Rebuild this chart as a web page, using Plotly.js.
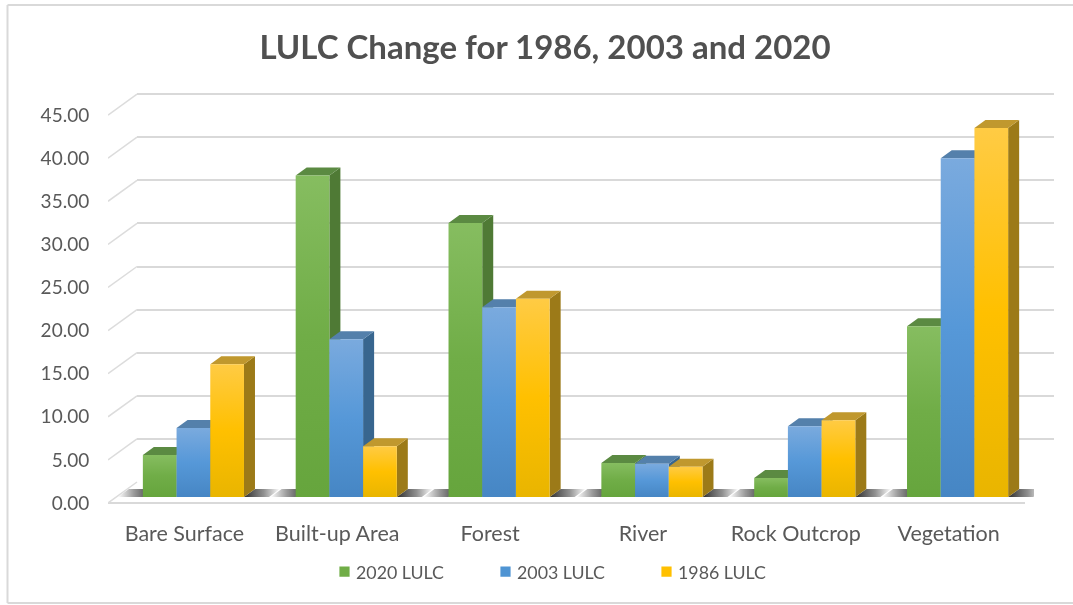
<!DOCTYPE html>
<html><head><meta charset="utf-8">
<script src="https://cdn.plot.ly/plotly-3.0.1.min.js"></script>
<style>html,body{margin:0;padding:0;background:#fff}#chart{width:1073px;height:605px;filter:blur(0.45px)}</style>
</head><body><div id="chart"></div>
<script>
// ---------- data ----------
const categories = ["Bare Surface","Built-up Area","Forest","River","Rock Outcrop","Vegetation"];
const lulc2020 = [4.87,37.3,31.8,3.95,2.2,19.8];
const lulc2003 = [8.0,18.3,22.0,3.85,8.2,39.3];
const lulc1986 = [15.4,5.9,23.0,3.5,8.9,42.8];
const seriesNames = ["2020 LULC","2003 LULC","1986 LULC"];
const yTicks = [0,5,10,15,20,25,30,35,40,45];
const yTickText = ["0.00","5.00","10.00","15.00","20.00","25.00","30.00","35.00","40.00","45.00"];
// ---------- styling ----------
const frontColors = ["#70ad47","#4f94d3","#ffc000"];
const sideColors = ["#4f7a35","#38668f","#9c7a18"];
const topColors = ["#5b8a42","#5480ab","#c0982e"];
const gradients = [["#86bd60","#70ad47","#66a53d"],["#7aaade","#5698d8","#4686c4"],["#ffcb44","#ffc000","#e9b500"]];
const W=1073,H=605,PXX=152.8,PXY=8.62;
const textGrey="#595959";
const font="Lato, 'Open Sans', sans-serif";
function planeX(left,right){return {domain:[left/W,right/W],range:[-0.5,5.5],showgrid:false,zeroline:false,showticklabels:false,ticks:"",showline:false,fixedrange:true};}
function planeY(base,anchor){const top=70,bottom=base;return {domain:[1-bottom/H,1-top/H],range:[0,(base-top)/PXY],showgrid:false,zeroline:false,showticklabels:false,ticks:"",showline:false,fixedrange:true,anchor};}
const series=[lulc2020,lulc2003,lulc1986];
const barW=33.7/PXX, dx=11/PXX, dy=8/PXY;
const traces=[];
// back wall (subplot xy) – anchor trace so the axes exist
traces.push({x:[0],y:[0],xaxis:"x",yaxis:"y",type:"scatter",mode:"none",showlegend:false,hoverinfo:"skip"});
// floor shadows (subplot x2y2)
categories.forEach((c,i)=>{
  const L=i-1.5*barW,R=i+1.5*barW,s=25/PXX;
  traces.push({x:[L-s,L,L+dx,L-s+dx,L-s],y:[0,0,dy,dy,0],xaxis:"x2",yaxis:"y2",type:"scatter",mode:"none",fill:"toself",cliponaxis:false,showlegend:false,hoverinfo:"skip",
    fillgradient:{type:"horizontal",colorscale:[[0,"rgba(70,70,70,0)"],[0.45,"rgba(70,70,70,0.55)"],[1,"rgba(45,45,45,1)"]]}});
  traces.push({x:[R,R+s,R+s+dx,R+dx,R],y:[0,0,dy,dy,0],xaxis:"x2",yaxis:"y2",type:"scatter",mode:"none",fill:"toself",cliponaxis:false,showlegend:false,hoverinfo:"skip",
    fillgradient:{type:"horizontal",colorscale:[[0,"rgba(45,45,45,1)"],[0.55,"rgba(70,70,70,0.6)"],[1,"rgba(70,70,70,0)"]]}});
});
// side and top faces, derived from the values (subplot x2y2)
series.forEach((vals,j)=>{
  const sx=[],sy=[],tx=[],ty=[];
  vals.forEach((v,i)=>{
    const L=i+(j-1.5)*barW,R=L+barW;
    sx.push(R,R,R+dx,R+dx,R,null); sy.push(0,v,v+dy,dy,0,null);
    tx.push(L,R,R+dx,L+dx,L,null); ty.push(v,v,v+dy,v+dy,v,null);
  });
  traces.push({x:sx,y:sy,xaxis:"x2",yaxis:"y2",type:"scatter",mode:"none",fill:"toself",fillcolor:sideColors[j],cliponaxis:false,showlegend:false,hoverinfo:"skip"});
  traces.push({x:tx,y:ty,xaxis:"x2",yaxis:"y2",type:"scatter",mode:"none",fill:"toself",fillcolor:topColors[j],cliponaxis:false,showlegend:false,hoverinfo:"skip"});
});
// front faces (subplot x3y3)
series.forEach((vals,j)=>{
  traces.push({x:categories.map((c,i)=>i),y:vals,name:seriesNames[j],type:"bar",xaxis:"x3",yaxis:"y3",marker:{color:frontColors[j],line:{width:0}},cliponaxis:false});
});
// left wall slants and front labels (subplot x4y4)
{
  const gx=[],gy=[],ddx=29/PXX,ddy=21/PXY;
  yTicks.forEach(v=>{gx.push(-0.5,-0.5+ddx,null);gy.push(v,v+ddy,null);});
  traces.push({x:gx,y:gy,xaxis:"x4",yaxis:"y4",type:"scatter",mode:"lines",line:{color:"#dcdcdc",width:1.5},cliponaxis:false,showlegend:false,hoverinfo:"skip"});
}
const frame="#d9d9d9";
const layout={
  width:W,height:H,margin:{l:0,r:0,t:0,b:0},paper_bgcolor:"#fff",plot_bgcolor:"rgba(0,0,0,0)",
  font:{family:font,color:textGrey},
  title:{text:"LULC Change for 1986, 2003 and 2020",x:545/W,xanchor:"center",y:1-47/H,yanchor:"middle",font:{family:font,size:33,color:"#505050",weight:700}},
  barmode:"group",bargap:1-3*barW,bargroupgap:0,
  showlegend:true,
  legend:{orientation:"h",x:316/W,xanchor:"left",y:1-572/H,yanchor:"middle",font:{size:17.8,color:textGrey,family:font},entrywidth:116,entrywidthmode:"pixels",traceorder:"normal",bgcolor:"rgba(0,0,0,0)"},
  xaxis:planeX(137,1054),
  yaxis:Object.assign(planeY(482,"x"),{showgrid:true,gridcolor:"#d9d9d9",gridwidth:2,tickmode:"array",tickvals:yTicks}),
  xaxis2:Object.assign(planeX(117,1034),{anchor:"y2"}),
  yaxis2:planeY(497,"x2"),
  xaxis3:Object.assign(planeX(117,1034),{anchor:"y3"}),
  yaxis3:planeY(497,"x3"),
  xaxis4:Object.assign(planeX(108,1025),{anchor:"y4",showticklabels:true,tickmode:"array",tickvals:[0,1,2,3,4,5],ticktext:categories,ticks:"outside",ticklen:11,tickcolor:"rgba(0,0,0,0)",tickfont:{size:21.5,color:textGrey,family:font},tickangle:0}),
  yaxis4:Object.assign(planeY(503,"x4"),{showticklabels:true,tickmode:"array",tickvals:yTicks,ticktext:yTickText,ticks:"outside",ticklen:14,tickcolor:"rgba(0,0,0,0)",tickfont:{size:19,color:textGrey,family:font},zeroline:true,zerolinecolor:"#d9d9d9",zerolinewidth:2}),
  shapes:[
    {type:"line",xref:"paper",yref:"paper",x0:7.5/W,x1:1,y0:1-5/H,y1:1-5/H,line:{color:frame,width:2},layer:"below"},
    {type:"line",xref:"paper",yref:"paper",x0:7.5/W,x1:7.5/W,y0:1-603/H,y1:1-5/H,line:{color:frame,width:2},layer:"below"},
    {type:"line",xref:"paper",yref:"paper",x0:7.5/W,x1:1,y0:1-603/H,y1:1-603/H,line:{color:frame,width:2},layer:"below"}
  ]
};
Plotly.newPlot("chart",traces,layout,{displayModeBar:false,staticPlot:true}).then(gd=>{
  const svg=gd.querySelector("svg.main-svg");
  let defs=svg.querySelector("defs");
  const NS="http://www.w3.org/2000/svg";
  gradients.forEach((g,j)=>{
    const lg=document.createElementNS(NS,"linearGradient");
    lg.setAttribute("id","barGrad"+j);lg.setAttribute("x1","0");lg.setAttribute("x2","0");lg.setAttribute("y1","0");lg.setAttribute("y2","1");
    [[0,g[0]],[0.5,g[1]],[1,g[2]]].forEach(([o,c])=>{const st=document.createElementNS(NS,"stop");st.setAttribute("offset",o);st.setAttribute("stop-color",c);lg.appendChild(st);});
    defs.appendChild(lg);
  });
  gd.querySelectorAll(".barlayer .trace.bars").forEach((tr,j)=>{
    tr.querySelectorAll("path").forEach(p=>{p.style.fill="url(#barGrad"+j+")";});
  });
  // legend swatches sit closer to their text in the reference
  gd.querySelectorAll(".legend .legendbar path, .legend .legendpoints path").forEach(p=>{p.setAttribute("transform","translate(28.5,0) scale(0.85)");});
});
</script></body></html>
